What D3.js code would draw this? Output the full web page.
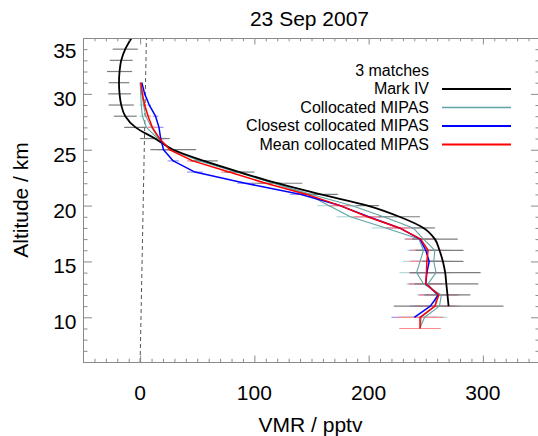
<!DOCTYPE html>
<html>
<head>
<meta charset="utf-8">
<script src="https://cdn.jsdelivr.net/npm/d3@7"></script>
<style>
  html, body { margin: 0; padding: 0; background: #fff; }
  svg { display: block; }
  text { font-family: "Liberation Sans", Arial, Helvetica, sans-serif; fill: #000; }
</style>
</head>
<body>
<svg id="chart" width="538" height="436"></svg>
<script>
// ---------------- data ----------------
const titleText = "23 Sep 2007";
const xTitle = "VMR / pptv";
const yTitle = "Altitude / km";
const xMajorTicks = [0, 100, 200, 300];
const yMajorTicks = [10, 15, 20, 25, 30, 35];

const markIVAlt = [35,34,33,32,31,30,29,28,27,26,25,24,23,22,21,20,19,18,17,16,15,14,13,12,11];
const markIVVmr = [-7.5,-13,-16.5,-18,-18.5,-18,-16.5,-13,-4,13,29,56,87,120,158,199,227,248,258,262,265,267,268,269,270];
const markIVErr = [11,11,10,11,9,10,11,10,10,13,20,12,13,22,15,10,18,10,20,21,18,31,28,20,48];

const mipasAlt   = [31,30,29,28,27,26,25,24,23,22,21,20,19,18,17,16,15,14,13,12,11,10,9];
const closestVmr = [1.5,4,8,13.5,16.5,18,20.5,29,48,92,141,175,200,227,245,250,253,251,250,261,254,240,null];
const meanVmr    = [0.7,2,4,7,10.7,17,26,46,78,110,146,175,199,227,245.6,252,251,250.6,250,261.4,258,245,245];
const colloc2Vmr = [0,0.5,1,2,5.5,15.5,28,53,86,117,150,185,213,239,248,258,257,259,252,259.5,258,246,245.3];
const colloc3Vmr = [0.5,1.5,3,5,10,16,27,52,84,117,147,165,184,215,244,248,245,242,248,263.7,262,249,244.7];
const mipasErr   = [0.5,1,1.5,2.5,4,5,5,5,7,7,10,10,12,12,13,14,15,15,15,17,18,20,18];

const refAlt = [6, 35];
const refVmr = [0, 5.5];

const legendHeader = "3 matches";
const legendLabels = ["Mark IV", "Collocated MIPAS", "Closest collocated MIPAS", "Mean collocated MIPAS"];
const legendColors = ["#000000", "#5fa3a3", "#0000ff", "#ff0000"];
const legendWidths = [2, 1.3, 2, 2];

// ---------------- layout ----------------
const svg = d3.select("#chart");
const pL = 83, pR = 540, pT = 38, pB = 362;
const x = d3.scaleLinear().domain([-50, 350]).range([pL, pR]);
const y = d3.scaleLinear().domain([6, 35]).range([pB, pT]);
const axisColor = "#8a8a8a";

svg.append("rect").attr("width", 538).attr("height", 436).attr("fill", "#fff");

svg.append("defs").append("clipPath").attr("id", "clip")
  .append("rect").attr("x", pL).attr("y", pT)
  .attr("width", pR - pL).attr("height", pB - pT);

const plot = svg.append("g").attr("clip-path", "url(#clip)");

// reference dashed line
plot.append("path")
  .datum(refAlt.map((a, i) => ({a, v: refVmr[i]})))
  .attr("d", d3.line().x(d => x(d.v)).y(d => y(d.a)))
  .attr("fill", "none").attr("stroke", "#555").attr("stroke-width", 1)
  .attr("stroke-dasharray", "4,3");

// error bars
function bars(alts, vals, errs, color, width) {
  const data = alts.map((a, i) => ({a, v: vals[i], e: errs[i]})).filter(d => d.v != null);
  plot.append("g").selectAll("line").data(data).join("line")
    .attr("x1", d => x(d.v - d.e)).attr("x2", d => x(d.v + d.e))
    .attr("y1", d => y(d.a)).attr("y2", d => y(d.a))
    .attr("stroke", color).attr("stroke-width", width);
}
bars(mipasAlt, colloc2Vmr, mipasErr, "#b5dada", 1.2);
bars(mipasAlt, colloc3Vmr, mipasErr, "#b5dada", 1.2);
bars(mipasAlt, closestVmr, mipasErr, "#9a9aff", 1.2);
bars(mipasAlt, meanVmr, mipasErr, "#ff8c8c", 1.2);
bars(markIVAlt, markIVVmr, markIVErr, "#7d7d7d", 1.2);

// profiles
function profile(alts, vals, color, width, curve) {
  const line = d3.line().defined(d => d.v != null)
    .x(d => x(d.v)).y(d => y(d.a));
  if (curve) line.curve(curve);
  plot.append("path")
    .datum(alts.map((a, i) => ({a, v: vals[i]})))
    .attr("d", line)
    .attr("fill", "none").attr("stroke", color).attr("stroke-width", width)
    .attr("stroke-linejoin", "round");
}
profile(mipasAlt, colloc2Vmr, legendColors[1], 1.1);
profile(mipasAlt, colloc3Vmr, legendColors[1], 1.1);
profile(markIVAlt, markIVVmr, legendColors[0], 1.8, d3.curveMonotoneY);
profile(mipasAlt, closestVmr, legendColors[2], 1.5);
profile(mipasAlt, meanVmr, legendColors[3], 1.5);

// ---------------- axes ----------------
const xMinor = d3.range(-50, 351, 10).filter(v => !xMajorTicks.includes(v));
const yMinor = d3.range(6, 36, 1).filter(v => !yMajorTicks.includes(v));

function styleAxis(g) {
  g.select(".domain").remove();
  g.selectAll("line").attr("stroke", axisColor);
  g.selectAll("text").remove();
}
const xTL = 6.5, yTL = 9;
svg.append("g").attr("transform", `translate(0,${pB})`)
  .call(d3.axisBottom(x).tickValues(xMajorTicks).tickSize(-xTL)).call(styleAxis);
svg.append("g").attr("transform", `translate(0,${pB})`)
  .call(d3.axisBottom(x).tickValues(xMinor).tickSize(-xTL / 2)).call(styleAxis);
svg.append("g").attr("transform", `translate(0,${pT})`)
  .call(d3.axisTop(x).tickValues(xMajorTicks).tickSize(-xTL)).call(styleAxis);
svg.append("g").attr("transform", `translate(0,${pT})`)
  .call(d3.axisTop(x).tickValues(xMinor).tickSize(-xTL / 2)).call(styleAxis);
svg.append("g").attr("transform", `translate(${pL},0)`)
  .call(d3.axisLeft(y).tickValues(yMajorTicks).tickSize(-yTL)).call(styleAxis);
svg.append("g").attr("transform", `translate(${pL},0)`)
  .call(d3.axisLeft(y).tickValues(yMinor).tickSize(-yTL / 2)).call(styleAxis);
svg.append("g").attr("transform", `translate(${pR},0)`)
  .call(d3.axisRight(y).tickValues(yMajorTicks).tickSize(-yTL)).call(styleAxis);
svg.append("g").attr("transform", `translate(${pR},0)`)
  .call(d3.axisRight(y).tickValues(yMinor).tickSize(-yTL / 2)).call(styleAxis);

svg.append("rect").attr("x", pL + 0.5).attr("y", pT + 0.5)
  .attr("width", pR - pL).attr("height", pB - pT)
  .attr("fill", "none").attr("stroke", axisColor).attr("stroke-width", 1);

// tick labels
svg.append("g").selectAll("text").data(xMajorTicks).join("text")
  .attr("x", d => x(d)).attr("y", pB + 38)
  .attr("text-anchor", "middle").attr("font-size", 21).text(d => d);
svg.append("g").selectAll("text").data(yMajorTicks).join("text")
  .attr("x", pL - 6.5).attr("y", d => Math.max(y(d) + 12, pT + 20))
  .attr("text-anchor", "end").attr("font-size", 21).text(d => d);

// titles
svg.append("text").attr("x", (pL + pR) / 2 - 2).attr("y", 26)
  .attr("text-anchor", "middle").attr("font-size", 21).text(titleText);
svg.append("text").attr("x", (pL + pR) / 2 - 1).attr("y", 432)
  .attr("text-anchor", "middle").attr("font-size", 21).text(xTitle);
svg.append("text").attr("transform", `translate(28,${(pT + pB) / 2}) rotate(-90)`)
  .attr("text-anchor", "middle").attr("font-size", 21).text(yTitle);

// legend
const legX = 429, legY0 = 75.5, legDy = 18.5;
svg.append("text").attr("x", legX).attr("y", legY0)
  .attr("text-anchor", "end").attr("font-size", 16).text(legendHeader);
const leg = svg.append("g").selectAll("g").data(legendLabels).join("g")
  .attr("transform", (d, i) => `translate(0,${legY0 + legDy * (i + 1)})`);
leg.append("text").attr("x", legX).attr("y", 0)
  .attr("text-anchor", "end").attr("font-size", 16).text(d => d);
leg.append("line").attr("x1", 442).attr("x2", 511).attr("y1", -5).attr("y2", -5)
  .attr("stroke", (d, i) => legendColors[i]).attr("stroke-width", (d, i) => legendWidths[i]);
</script>
</body>
</html>
